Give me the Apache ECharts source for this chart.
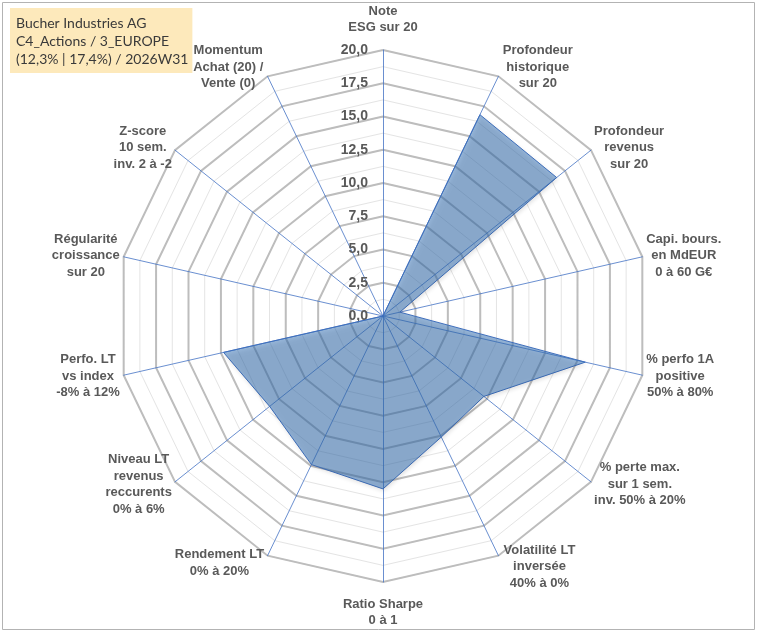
<!DOCTYPE html>
<html>
<head>
<meta charset="utf-8">
<title>Bucher Industries AG</title>
<script src="https://cdn.jsdelivr.net/npm/echarts@6/dist/echarts.min.js"></script>
<style>
  html, body { margin: 0; padding: 0; background: #fff; }
  #chart { width: 760px; height: 633px; }
</style>
</head>
<body>
<div id="chart"></div>
<script>
// titre (cartouche en haut a gauche)
var titleLines = ['Bucher Industries AG', 'C4_Actions / 3_EUROPE', '(12,3% | 17,4%) / 2026W31'];

// axes du radar, dans l'ordre des aiguilles d'une montre en partant du haut
var axisNames = [
  'Note\nESG sur 20',
  'Profondeur\nhistorique\nsur 20',
  'Profondeur\nrevenus\nsur 20',
  'Capi. bours.\nen MdEUR\n0 à 60 G€',
  '% perfo 1A\npositive\n50% à 80%',
  '% perte max.\nsur 1 sem.\ninv. 50% à 20%',
  'Volatilité LT\ninversée\n40% à 0%',
  'Ratio Sharpe\n0 à 1',
  'Rendement LT\n0% à 20%',
  'Niveau LT\nrevenus\nreccurents\n0% à 6%',
  'Perfo. LT\nvs index\n-8% à 12%',
  'Régularité\ncroissance\nsur 20',
  'Z-score\n10 sem.\ninv. 2 à -2',
  'Momentum\nAchat (20) /\nVente (0)'
];

// notes sur 20
var scores = [0, 16.8, 16.7, 1.3, 15.6, 9.7, 10.1, 13.0, 12.4, 10.9, 12.3, 0, 0, 0];

var scoreMin = 0;
var scoreMax = 20;
var majorStep = 2.5;
var minorStep = 1.25;

var chart = echarts.init(document.getElementById('chart'));

// echarts place les axes dans le sens inverse : on retourne l'ordre
var n = axisNames.length;
var order = [];
for (var j = 0; j < n; j++) {
  order.push((n - j) % n);
}

var labelFont = '"Liberation Sans", Arial, sans-serif';
var txtColor = '#595959';

function fmtTick(v) {
  return Number(v).toFixed(1).replace('.', ',');
}

// ecart entre le bout de l'axe et son libelle
function gapFor(i) {
  if (i === 0 || i === 7) return 14;
  if (i === 1 || i === 13) return 10;
  if (i === 6) return 12;
  if (i === 8) return 8;
  return 4;
}

var minorIndicators = order.map(function (i) {
  return { name: '', min: scoreMin, max: scoreMax };
});

var majorIndicators = order.map(function (i, j) {
  var ind = {
    name: axisNames[i],
    min: scoreMin,
    max: scoreMax,
    nameGap: gapFor(i)
  };
  if (j !== 0) {
    ind.axisLabel = { show: false };
  }
  return ind;
});

var radarCenter = [383, 316];
var radarRadius = 266;

var option = {
  backgroundColor: '#fff',
  animation: false,
  title: {
    text: titleLines.join('\n'),
    left: 10,
    top: 8,
    padding: [6, 4, 5, 6],
    backgroundColor: '#fde9bb',
    textStyle: {
      fontFamily: 'Lato, "Open Sans", sans-serif',
      fontSize: 14,
      fontWeight: 'normal',
      lineHeight: 18,
      color: '#3a3a3a'
    }
  },
  graphic: [{
    type: 'rect',
    shape: { x: 2.5, y: 2.5, width: 752, height: 627 },
    style: { fill: null, stroke: '#b3b3b3', lineWidth: 1 },
    silent: true
  }],
  radar: [
    {
      // grille secondaire (pas de 1,25)
      center: radarCenter,
      radius: radarRadius,
      shape: 'polygon',
      startAngle: 90,
      splitNumber: Math.round((scoreMax - scoreMin) / minorStep),
      indicator: minorIndicators,
      axisName: { show: false },
      axisLine: { show: false },
      axisTick: { show: false },
      axisLabel: { show: false },
      splitArea: { show: false },
      splitLine: { lineStyle: { color: '#e4e4e4', width: 1 } }
    },
    {
      // grille principale (pas de 2,5)
      center: radarCenter,
      radius: radarRadius,
      shape: 'polygon',
      startAngle: 90,
      splitNumber: Math.round((scoreMax - scoreMin) / majorStep),
      indicator: majorIndicators,
      axisName: {
        color: txtColor,
        formatter: function (value) {
          return value.split('\n').map(function (l) {
            return '{c|' + l + '}';
          }).join('\n');
        },
        rich: {
          c: {
            align: 'center',
            fontFamily: labelFont,
            fontSize: 13,
            fontWeight: 'bold',
            lineHeight: 16.5,
            color: txtColor
          }
        }
      },
      axisLine: { show: true, lineStyle: { color: '#4472c4', width: 0.8 } },
      axisTick: { show: false },
      axisLabel: {
        show: true,
        formatter: fmtTick,
        fontFamily: labelFont,
        fontSize: 14,
        fontWeight: 'bold',
        color: txtColor,
        margin: 15
      },
      splitArea: { show: false },
      splitLine: { lineStyle: { color: '#bdbdbd', width: 2 } }
    }
  ],
  series: [{
    type: 'radar',
    radarIndex: 1,
    symbol: 'none',
    lineStyle: { color: '#4472c4', width: 1 },
    areaStyle: {
      color: 'rgba(52,112,182,0.72)',
      shadowBlur: 4,
      shadowColor: 'rgba(0,0,0,0.25)',
      shadowOffsetX: 1,
      shadowOffsetY: 2
    },
    data: [{
      value: order.map(function (i) { return scores[i]; }),
      name: 'Bucher Industries AG'
    }]
  }]
};

chart.setOption(option);
</script>
</body>
</html>
